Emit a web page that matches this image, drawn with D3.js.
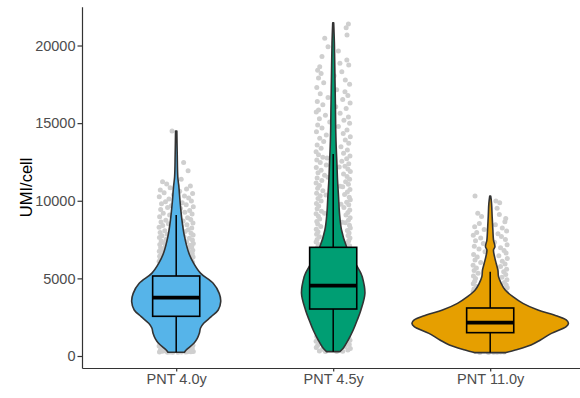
<!DOCTYPE html>
<html>
<head>
<meta charset="utf-8">
<script src="https://cdn.jsdelivr.net/npm/d3@7"></script>
<style>
  html, body { margin: 0; padding: 0; background: #ffffff; }
  svg { display: block; }
  .axis text { font-family: "Liberation Sans", Arial, sans-serif; font-size: 14.5px; fill: #4d4d4d; }
  .axis path, .axis line { stroke: #333333; stroke-width: 1.2px; }
</style>
</head>
<body>
<svg id="chart" width="580" height="398"></svg>
<script>
// Groups and their fill colours
const groups = ["PNT 4.0y", "PNT 4.5y", "PNT 11.0y"];
const groupColors = ["#56B4E9", "#009E73", "#E69F00"];

// Y axis tick labels
const yTicks = [0, 5000, 10000, 15000, 20000];

// Box statistics per group: [lower whisker, Q1, median, Q3, upper whisker]
const boxStats = [
  [240, 2557, 3756, 5153, 9082],
  [280, 3027, 4530, 7000, 13010],
  [220, 1503, 2147, 3092, 5430]
];

// Violin density profiles: [UMI/cell, relative density]
const violin40 = [
  [240, 0.105], [386, 0.127], [816, 0.225], [1100, 0.265], [1460, 0.295], [1800, 0.31],
  [2104, 0.35], [2533, 0.446], [2963, 0.535], [3500, 0.567], [4036, 0.548], [4680, 0.471],
  [5325, 0.312], [5969, 0.223], [6613, 0.162], [7685, 0.106], [8760, 0.073], [9833, 0.051],
  [10906, 0.034], [11550, 0.02], [13000, 0.013], [14490, 0.008]
];
const violin45 = [
  [280, 0.085], [496, 0.127], [1030, 0.191], [1675, 0.255], [2319, 0.306], [2963, 0.353],
  [4036, 0.404], [5100, 0.37], [5325, 0.353], [6180, 0.26], [7040, 0.17], [8116, 0.106],
  [9190, 0.08], [10260, 0.068], [11336, 0.055], [12410, 0.047], [13480, 0.038],
  [14560, 0.032], [15845, 0.029], [17990, 0.022], [20140, 0.015], [21470, 0.006]
];
const violin110 = [
  [220, 0.2], [386, 0.32], [710, 0.52], [1030, 0.64], [1460, 0.78], [1890, 0.968],
  [2104, 0.997], [2320, 0.968], [2640, 0.815], [2963, 0.608], [3392, 0.417], [3820, 0.289],
  [4250, 0.191], [4680, 0.14], [5110, 0.106], [5540, 0.098], [5970, 0.076], [6400, 0.055],
  [6830, 0.042], [7040, 0.06], [7470, 0.042], [8116, 0.034], [8970, 0.025], [9830, 0.017],
  [10306, 0.006]
];
const violins = [violin40, violin45, violin110];

// Individual cells: [jitter offset (-1..1), UMI/cell]
const cells40 = [
  [-0.24,14490],[0.43,12460],[0.69,11940],[0.29,11380],[-0.79,11230],[-0.55,11080],[0.05,11000],
  [0.82,10950],[-0.35,10840],[0.6,10760],[-0.92,10700],[0.2,10620],
  [-0.7,10520],[0.95,10470],[-0.15,10390],[0.48,10310],[-0.98,10250],[0.72,10180],[-0.42,10120],
  [0.1,10060],[0.88,9990],[-0.62,9930],[0.35,9870],[-0.85,9800],[0.58,9740],[-0.28,9680],
  [0.99,9610],[-0.5,9560],[0.25,9500],[-0.9,9430],[0.78,9380],[-0.05,9320],[0.5,9260],
  [-0.75,9200],[0.92,9140],[-0.38,9090],[0.15,9030],[-0.96,8970],[0.66,8910],[-0.2,8860],
  [0.84,8800],[-0.6,8740],[0.4,8690],[-0.88,8630],[0.97,8570],[-0.45,8520],[0.62,8460],
  [-0.78,8400],[0.3,8350],[-0.99,8290],[0.9,8240],[-0.3,8180],[0.7,8130],[-0.66,8070],
  [0.52,8020],[-0.93,7960],[0.86,7910],[-0.52,7850],[0.98,7800],[-0.82,7740],[0.45,7690],
  [-0.97,7630],[0.76,7580],[-0.58,7520],[0.94,7470],[-0.87,7410],[0.6,7360],[-0.7,7300],
  [0.99,7250],[-0.95,7190],[0.8,7140],[-0.62,7080],[0.9,7030],[-0.9,6970],[0.68,6920],
  [-0.8,6860],[0.96,6810],[-0.98,6750],[0.85,6700],[-0.72,6640],[0.93,6590],[-0.88,6530],
  [0.75,6480],[-0.96,6420],[0.98,6370],[-0.85,6310],[0.88,6260],[-0.93,6200],[0.8,6150],
  [-0.99,6090],[0.95,6040],[-0.9,5980],[0.9,5930],
  [-0.95,880],[0.9,820],[-0.85,760],[0.97,700],[-0.99,640],[0.8,590],[-0.75,540],[0.93,480],
  [-0.9,430],[0.7,380],[-0.6,330],[0.99,290],[-0.97,260],[0.55,250],[-0.5,245],[0.85,270],
  [-0.8,300],[0.3,255],[-0.2,242],[0.65,280],[-0.35,262],[0.1,248]
];
const cells45 = [
  [0.88,21390],[0.75,21150],[0.8,20680],[-0.49,20460],[-0.3,19920],[0.3,19650],[-0.65,19300],
  [0.79,19070],[0.39,18850],[0.9,18740],[-0.78,18630],[-0.9,18400],[0.5,18310],[-0.7,18200],
  [0.05,18050],[-0.85,17900],[0.7,17780],[-0.55,17600],[0.95,17500],[-0.95,17300],[0.2,17150],
  [0.68,17020],
  [-0.75,16900],[0.85,16780],[-0.3,16650],[0.55,16520],[-0.92,16400],[0.98,16300],[-0.6,16180],
  [0.15,16050],[0.75,15950],[-0.85,15850],[-0.98,15720],[0.4,15640],[-0.45,15500],[0.88,15400],
  [-0.8,15290],[0.62,15180],[-0.2,15080],[0.95,15000],[-0.9,14880],[0.3,14790],[-0.65,14680],
  [0.8,14560],[-0.97,14450],[0.58,14340],[-0.4,14230],[0.99,14130],[-0.78,14020],[0.7,13920],
  [-0.55,13810],[0.9,13700],[-0.93,13590],[0.45,13480],[-0.7,13380],[0.82,13270],[-0.99,13160],
  [0.6,13060],
  [-0.85,12960],[0.97,12880],[-0.35,12760],[-0.6,12800],[0.78,12710],[-0.95,12630],[0.5,12550],
  [-0.75,12470],[0.9,12380],[-0.4,12300],[0.35,12180],[0.68,12220],[-0.98,12140],[0.85,12050],
  [-0.7,11970],[0.99,11890],[-0.88,11800],[0.6,11720],[-0.5,11640],[0.8,11560],[-0.3,11520],
  [-0.93,11470],[0.95,11390],[-0.66,11310],[0.72,11230],[-0.99,11140],[0.88,11060],[-0.8,10980],
  [0.4,10940],[0.55,10900],[-0.9,10810],[0.97,10730],[-0.6,10650],[0.82,10560],[-0.96,10480],
  [-0.42,10370],[0.66,10400],[-0.75,10320],[0.93,10230],[-0.88,10150],[0.99,10070],[-0.7,9990],
  [0.78,9900],[-0.97,9820],[0.45,9780],[0.9,9740],[-0.84,9660],[0.62,9570],[-0.93,9490],
  [0.96,9410],[-0.68,9330],[0.85,9240],[-0.5,9200],[-0.99,9160],[0.74,9080],[-0.86,9000],
  [0.98,8910],[-0.78,8830],[0.88,8750],[-0.95,8670],[0.52,8620],[0.7,8580],[-0.9,8500],
  [0.94,8420],[-0.72,8340],[0.99,8250],[-0.98,8170],[0.82,8090],[-0.88,8010],[0.92,7920],
  [-0.96,7840],[0.86,7760],[-0.8,7680],[0.97,7600],[-0.93,7510],[0.9,7430],[-0.99,7350],
  [0.8,7270],[-0.86,7190],[0.95,7100],[-0.9,7020],
  [-0.95,1250],[0.9,1180],[-0.88,1100],[0.97,1020],[-0.99,950],[0.82,880],[-0.75,800],
  [0.93,740],[-0.9,670],[0.7,610],[-0.98,550],[0.99,490],[-0.62,430],[0.85,380],[-0.8,330],
  [0.55,300],[-0.45,285],[0.2,290]
];
const cells110 = [
  [-0.88,10306],[0.33,9980],[0.55,9870],[0.4,9510],[-0.72,9190],[0.53,9110],[-0.5,8980],
  [0.9,8860],[0.85,8650],[-0.63,8540],[0.3,8450],[-0.9,8330],[0.7,8240],[-0.35,8150],
  [0.95,8050],[-0.78,7960],[0.45,7870],[-0.98,7780],[0.65,7690],[-0.55,7600],[0.88,7510],
  [-0.85,7420],[0.25,7330],[-0.4,7250],[0.98,7160],[-0.92,7070],[0.6,6980],[-0.65,6890],
  [0.8,6800],[-0.3,6720],[0.92,6630],[-0.96,6540],[0.5,6450],[-0.75,6370],[0.99,6280],
  [-0.88,6190],[0.7,6100],[-0.55,6020],[0.86,5930],[-0.99,5840],[0.6,5760],[-0.8,5670],
  [0.95,5590],[-0.93,5500],[0.78,5420],[-0.7,5330],[0.9,5250],[-0.97,5160],[0.68,5080],
  [-0.85,4990],[0.97,4910],[-0.9,4820],[0.82,4740],[-0.98,4650],[0.93,4570],[-0.8,4480],
  [0.99,4400],[-0.94,4310],[0.88,4230],[-0.99,4140],[0.96,4060],
  [-0.6,230],[0.4,240],[-0.1,225],[0.8,260],[-0.9,300],[0.2,235],[0.6,250]
];
const cells = [cells40, cells45, cells110];

const svg = d3.select("#chart");
const panel = { left: 82, right: 584.4, top: 6.7, bottom: 368 };

const x = d3.scalePoint().domain(groups).range([panel.left, panel.right]).padding(0.6);
const step = x.step();
const y = d3.scaleLinear().domain([-773, 22500]).range([panel.bottom, panel.top]);
const halfWidth = d3.scaleLinear().domain([0, 1]).range([0, 0.5 * step]);
const jitter = d3.scaleLinear().domain([-1, 1]).range([-0.11 * step, 0.11 * step]);
const boxHalf = 0.15 * step;

const plot = svg.append("g");

// Jittered cells, drawn beneath the violins
groups.forEach((g, i) => {
  const cx = x(g);
  plot.append("g").selectAll("circle")
    .data(cells[i]).join("circle")
    .attr("cx", d => cx + jitter(d[0]))
    .attr("cy", d => y(d[1]))
    .attr("r", 2.5)
    .attr("fill", "#cfcfcf");
});

// Violins
groups.forEach((g, i) => {
  const cx = x(g);
  const area = d3.area()
    .y(d => y(d[0]))
    .x0(d => cx - halfWidth(d[1]))
    .x1(d => cx + halfWidth(d[1]))
    .curve(d3.curveCatmullRom.alpha(0.5));
  plot.append("path")
    .datum(violins[i])
    .attr("d", area)
    .attr("fill", groupColors[i])
    .attr("stroke", "#333333")
    .attr("stroke-width", 1.6)
    .attr("stroke-linejoin", "round");
});

// Box plots
groups.forEach((g, i) => {
  const cx = x(g);
  const [lo, q1, med, q3, hi] = boxStats[i];
  const gb = plot.append("g");
  gb.append("line")
    .attr("x1", cx).attr("x2", cx).attr("y1", y(q3)).attr("y2", y(hi))
    .attr("stroke", "#000").attr("stroke-width", 1.5);
  gb.append("line")
    .attr("x1", cx).attr("x2", cx).attr("y1", y(q1)).attr("y2", y(lo))
    .attr("stroke", "#000").attr("stroke-width", 1.5);
  gb.append("rect")
    .attr("x", cx - boxHalf).attr("width", 2 * boxHalf)
    .attr("y", y(q3)).attr("height", y(q1) - y(q3))
    .attr("fill", groupColors[i])
    .attr("stroke", "#000").attr("stroke-width", 1.6);
  gb.append("line")
    .attr("x1", cx - boxHalf).attr("x2", cx + boxHalf)
    .attr("y1", y(med)).attr("y2", y(med))
    .attr("stroke", "#000").attr("stroke-width", 3.8);
});

// Axes
svg.append("g")
  .attr("class", "axis")
  .attr("transform", `translate(${panel.left},0)`)
  .call(d3.axisLeft(y).tickValues(yTicks).tickFormat(d3.format("d")).tickSize(4.5).tickSizeOuter(0).tickPadding(2));

svg.append("g")
  .attr("class", "axis")
  .attr("transform", `translate(0,${panel.bottom})`)
  .call(d3.axisBottom(x).tickSize(3.5).tickSizeOuter(0).tickPadding(2.5));

svg.append("text")
  .attr("transform", `translate(32,${(panel.top + panel.bottom) / 2}) rotate(-90)`)
  .attr("text-anchor", "middle")
  .attr("font-family", "Liberation Sans, Arial, sans-serif")
  .attr("font-size", 16.5)
  .attr("fill", "#000")
  .text("UMI/cell");
</script>
</body>
</html>
